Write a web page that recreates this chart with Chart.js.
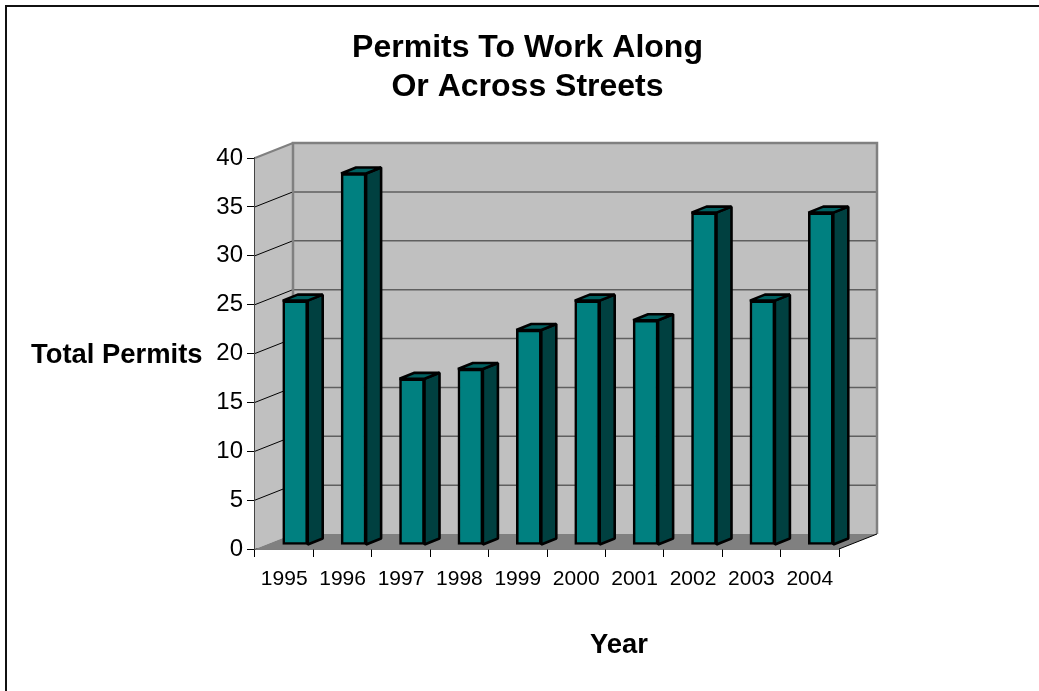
<!DOCTYPE html>
<html>
<head>
<meta charset="utf-8">
<script src="https://cdn.jsdelivr.net/npm/chart.js@4"></script>
<style>
html,body{margin:0;padding:0;background:#fff;overflow:hidden}
#wrap{width:1039px;height:691px;position:relative}
</style>
</head>
<body>
<div id="wrap"><canvas id="c" width="1039" height="691"></canvas></div>
<script>
const years = ['1995','1996','1997','1998','1999','2000','2001','2002','2003','2004'];
const permits = [25,38,17,18,22,25,23,34,25,34];
const yTicks = [0,5,10,15,20,25,30,35,40];
const chartTitle = ['Permits To Work Along','Or Across Streets'];
const yTitle = 'Total Permits';
const xTitle = 'Year';

const FONT = '"Liberation Sans", Arial, sans-serif';
const wallDx = 38, wallDy = -15;
const barDx = 11, barDy = -4;
const sideDx = 15, sideDy = -6;

const frame3d = {
  id: 'frame3d',
  beforeDatasetsDraw(chart) {
    const {ctx, scales:{x,y}} = chart;
    const l = x.left, r = x.right, t = y.top, b = y.bottom;
    ctx.save();
    ctx.fillStyle = '#C0C0C0';
    ctx.beginPath();
    ctx.moveTo(l,b); ctx.lineTo(l,t); ctx.lineTo(l+wallDx,t+wallDy);
    ctx.lineTo(r+wallDx,t+wallDy); ctx.lineTo(r+wallDx,b+wallDy); ctx.lineTo(l+wallDx,b+wallDy);
    ctx.closePath(); ctx.fill();
    ctx.fillStyle = '#808080';
    ctx.beginPath();
    ctx.moveTo(l,b); ctx.lineTo(l+wallDx,b+wallDy); ctx.lineTo(r+wallDx,b+wallDy); ctx.lineTo(r,b);
    ctx.closePath(); ctx.fill();
    yTicks.forEach(v => {
      if (v === 0) return;
      const py = y.getPixelForValue(v);
      ctx.strokeStyle = v === 40 ? '#808080' : '#000';
      ctx.lineWidth = v === 40 ? 2 : 1;
      ctx.beginPath(); ctx.moveTo(l,py); ctx.lineTo(l+wallDx,py+wallDy); ctx.stroke();
      if (v !== 40) {
        ctx.strokeStyle = '#5f5f5f';
        ctx.lineWidth = 1.5;
        ctx.beginPath(); ctx.moveTo(l+wallDx,py+wallDy); ctx.lineTo(r+wallDx,py+wallDy); ctx.stroke();
      }
    });
    ctx.strokeStyle = '#808080';
    ctx.lineWidth = 2.5;
    ctx.beginPath();
    ctx.moveTo(l+wallDx,b+wallDy); ctx.lineTo(l+wallDx,t+wallDy); ctx.lineTo(r+wallDx,t+wallDy); ctx.lineTo(r+wallDx,b+wallDy);
    ctx.stroke();
    ctx.strokeStyle = '#000';
    ctx.lineWidth = 1;
    ctx.beginPath(); ctx.moveTo(r,b); ctx.lineTo(r+wallDx,b+wallDy); ctx.stroke();
    ctx.restore();
  },
  beforeDatasetDraw(chart) {
    chart.ctx.save();
    chart.ctx.translate(barDx, barDy);
    const meta = chart.getDatasetMeta(0), ctx = chart.ctx;
    meta.data.forEach(bar => {
      const w = bar.width/2, xl = bar.x-w, xr = bar.x+w, yt = bar.y, yb = bar.base;
      ctx.lineWidth = 2.6; ctx.strokeStyle = '#000'; ctx.lineJoin = 'bevel';
      ctx.fillStyle = '#004040';
      ctx.beginPath();
      ctx.moveTo(xr,yt); ctx.lineTo(xr+sideDx,yt+sideDy); ctx.lineTo(xr+sideDx,yb+sideDy); ctx.lineTo(xr,yb);
      ctx.closePath(); ctx.fill(); ctx.stroke();
      ctx.fillStyle = '#006060';
      ctx.beginPath();
      ctx.moveTo(xl,yt); ctx.lineTo(xl+sideDx,yt+sideDy); ctx.lineTo(xr+sideDx,yt+sideDy); ctx.lineTo(xr,yt);
      ctx.closePath(); ctx.fill(); ctx.stroke();
    });
  },
  afterDatasetDraw(chart) { chart.ctx.restore(); },
  afterDraw(chart) {
    const {ctx} = chart;
    ctx.save();
    ctx.fillStyle = '#000';
    ctx.textBaseline = 'alphabetic';
    ctx.font = 'bold 32px ' + FONT;
    ctx.textAlign = 'center';
    ctx.fillText(chartTitle[0], 527.5, 57);
    ctx.fillText(chartTitle[1], 527.5, 96);
    ctx.font = 'bold 27.4px ' + FONT;
    ctx.textAlign = 'left';
    ctx.fillText(yTitle, 31, 363);
    ctx.textAlign = 'center';
    ctx.fillText(xTitle, 619, 653);
    ctx.strokeStyle = '#111';
    ctx.lineWidth = 2;
    ctx.beginPath();
    ctx.moveTo(6, 691); ctx.lineTo(6, 6); ctx.lineTo(1039, 6);
    ctx.stroke();
    ctx.restore();
  }
};

new Chart(document.getElementById('c'), {
  type: 'bar',
  data: {
    labels: years,
    datasets: [{
      data: permits,
      backgroundColor: '#008080',
      borderColor: '#000',
      borderWidth: 2.6,
      barThickness: 25,
      borderSkipped: false
    }]
  },
  plugins: [frame3d],
  options: {
    responsive: false,
    animation: false,
    devicePixelRatio: 1,
    layout: {padding: {left: 0, right: 200, top: 158, bottom: 0}},
    plugins: {
      legend: {display: false},
      tooltip: {enabled: false},
      title: {display: false}
    },
    scales: {
      x: {
        type: 'category',
        offset: true,
        grid: {drawOnChartArea: false, drawTicks: true, tickLength: 8, color: '#000', lineWidth: 1, offset: true},
        border: {color: '#000', width: 1.5},
        ticks: {color: '#000', font: {family: FONT, size: 21}, maxRotation: 0, autoSkip: false, padding: 10},
        afterFit(s) { s.height = 142; }
      },
      y: {
        min: 0, max: 40,
        grid: {drawOnChartArea: false, drawTicks: true, tickLength: 8, color: '#000', lineWidth: 1},
        border: {color: '#444', width: 1.5},
        ticks: {stepSize: 5, color: '#000', font: {family: FONT, size: 24}, padding: 4},
        afterFit(s) { s.width = 255; }
      }
    }
  }
});
</script>
</body>
</html>
